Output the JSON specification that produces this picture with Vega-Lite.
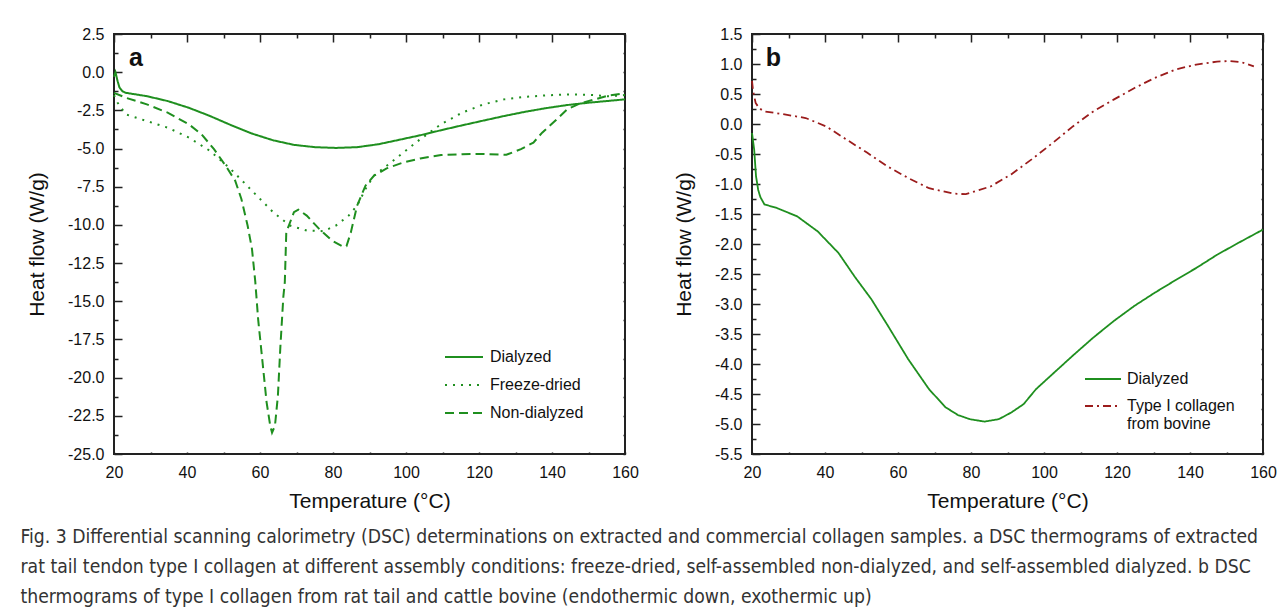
{
  "$schema": "https://vega.github.io/schema/vega-lite/v6.json",
  "background": "white",
  "padding": {"left": 20, "top": 25, "right": 5, "bottom": 5},
  "config": {
    "view": {"stroke": "#222", "strokeWidth": 2},
    "axis": {"labelFont": "Liberation Sans", "labelFontSize": 16, "labelColor": "#111", "titleFont": "Liberation Sans", "titleFontSize": 21, "titleFontWeight": "normal", "titleColor": "#111", "domain": false, "ticks": false, "grid": true, "gridColor": "#222222", "gridWidth": 1.5, "gridOpacity": 1, "labelFlush": false, "labelOverlap": false, "labelPadding": 10},
    "legend": {"labelFont": "Liberation Sans", "labelFontSize": 16, "labelColor": "#111"},
    "concat": {"spacing": 32}
  },
  "resolve": {"scale": {"color": "independent", "strokeDash": "independent"}, "legend": {"color": "independent", "strokeDash": "independent"}},
  "title": {
    "text": [
      "Fig. 3 Differential scanning calorimetry (DSC) determinations on extracted and commercial collagen samples. a DSC thermograms of extracted",
      "rat tail tendon type I collagen at different assembly conditions: freeze-dried, self-assembled non-dialyzed, and self-assembled dialyzed. b DSC",
      "thermograms of type I collagen from rat tail and cattle bovine (endothermic down, exothermic up)"
    ],
    "orient": "bottom", "anchor": "start", "frame": "bounds",
    "font": "DejaVu Sans Condensed, Liberation Sans", "fontSize": 19.2, "fontWeight": "normal", "color": "#333",
    "lineHeight": 30, "offset": 16, "dx": -5
  },
  "datasets": {
    "a": [
      {"s": "Dialyzed", "T": 20.0, "v": -0.3},
      {"s": "Dialyzed", "T": 20.4, "v": 0.0},
      {"s": "Dialyzed", "T": 21.0, "v": -0.6},
      {"s": "Dialyzed", "T": 21.5, "v": -1.0},
      {"s": "Dialyzed", "T": 22.3, "v": -1.25},
      {"s": "Dialyzed", "T": 23.2, "v": -1.35},
      {"s": "Dialyzed", "T": 29.0, "v": -1.57},
      {"s": "Dialyzed", "T": 34.7, "v": -1.89},
      {"s": "Dialyzed", "T": 40.5, "v": -2.33},
      {"s": "Dialyzed", "T": 46.3, "v": -2.87},
      {"s": "Dialyzed", "T": 52.0, "v": -3.46},
      {"s": "Dialyzed", "T": 57.8, "v": -4.02},
      {"s": "Dialyzed", "T": 63.6, "v": -4.46},
      {"s": "Dialyzed", "T": 69.3, "v": -4.76},
      {"s": "Dialyzed", "T": 75.1, "v": -4.91},
      {"s": "Dialyzed", "T": 80.8, "v": -4.96},
      {"s": "Dialyzed", "T": 86.6, "v": -4.91},
      {"s": "Dialyzed", "T": 92.4, "v": -4.72},
      {"s": "Dialyzed", "T": 98.1, "v": -4.43},
      {"s": "Dialyzed", "T": 103.9, "v": -4.13},
      {"s": "Dialyzed", "T": 109.6, "v": -3.8},
      {"s": "Dialyzed", "T": 115.4, "v": -3.48},
      {"s": "Dialyzed", "T": 121.2, "v": -3.17},
      {"s": "Dialyzed", "T": 126.9, "v": -2.87},
      {"s": "Dialyzed", "T": 132.7, "v": -2.59},
      {"s": "Dialyzed", "T": 138.5, "v": -2.35},
      {"s": "Dialyzed", "T": 144.2, "v": -2.15},
      {"s": "Dialyzed", "T": 150.0, "v": -2.0},
      {"s": "Dialyzed", "T": 160.0, "v": -1.78},
      {"s": "Freeze-dried", "T": 20.0, "v": -1.5},
      {"s": "Freeze-dried", "T": 21.0, "v": -2.0},
      {"s": "Freeze-dried", "T": 23.2, "v": -2.76},
      {"s": "Freeze-dried", "T": 29.0, "v": -3.2},
      {"s": "Freeze-dried", "T": 34.7, "v": -3.63},
      {"s": "Freeze-dried", "T": 40.5, "v": -4.28},
      {"s": "Freeze-dried", "T": 46.3, "v": -5.15},
      {"s": "Freeze-dried", "T": 52.0, "v": -6.35},
      {"s": "Freeze-dried", "T": 57.8, "v": -7.76},
      {"s": "Freeze-dried", "T": 63.6, "v": -9.17},
      {"s": "Freeze-dried", "T": 68.2, "v": -10.04},
      {"s": "Freeze-dried", "T": 72.8, "v": -10.37},
      {"s": "Freeze-dried", "T": 77.4, "v": -10.41},
      {"s": "Freeze-dried", "T": 80.8, "v": -10.04},
      {"s": "Freeze-dried", "T": 84.3, "v": -9.39},
      {"s": "Freeze-dried", "T": 86.6, "v": -8.74},
      {"s": "Freeze-dried", "T": 88.9, "v": -7.65},
      {"s": "Freeze-dried", "T": 91.2, "v": -6.78},
      {"s": "Freeze-dried", "T": 94.7, "v": -6.13},
      {"s": "Freeze-dried", "T": 99.3, "v": -5.26},
      {"s": "Freeze-dried", "T": 103.9, "v": -4.39},
      {"s": "Freeze-dried", "T": 109.6, "v": -3.41},
      {"s": "Freeze-dried", "T": 115.4, "v": -2.65},
      {"s": "Freeze-dried", "T": 121.2, "v": -2.11},
      {"s": "Freeze-dried", "T": 126.9, "v": -1.78},
      {"s": "Freeze-dried", "T": 132.7, "v": -1.61},
      {"s": "Freeze-dried", "T": 138.5, "v": -1.52},
      {"s": "Freeze-dried", "T": 144.2, "v": -1.46},
      {"s": "Freeze-dried", "T": 150.0, "v": -1.48},
      {"s": "Freeze-dried", "T": 155.7, "v": -1.58},
      {"s": "Freeze-dried", "T": 160.0, "v": -1.5},
      {"s": "Non-dialyzed", "T": 20.0, "v": -1.35},
      {"s": "Non-dialyzed", "T": 23.2, "v": -1.67},
      {"s": "Non-dialyzed", "T": 29.0, "v": -2.11},
      {"s": "Non-dialyzed", "T": 34.7, "v": -2.65},
      {"s": "Non-dialyzed", "T": 40.5, "v": -3.41},
      {"s": "Non-dialyzed", "T": 44.0, "v": -4.07},
      {"s": "Non-dialyzed", "T": 47.4, "v": -5.04},
      {"s": "Non-dialyzed", "T": 50.9, "v": -6.24},
      {"s": "Non-dialyzed", "T": 53.2, "v": -7.11},
      {"s": "Non-dialyzed", "T": 54.9, "v": -8.3},
      {"s": "Non-dialyzed", "T": 56.6, "v": -10.04},
      {"s": "Non-dialyzed", "T": 57.8, "v": -11.57},
      {"s": "Non-dialyzed", "T": 58.7, "v": -13.7},
      {"s": "Non-dialyzed", "T": 59.5, "v": -16.2},
      {"s": "Non-dialyzed", "T": 60.7, "v": -19.0},
      {"s": "Non-dialyzed", "T": 61.8, "v": -21.6},
      {"s": "Non-dialyzed", "T": 62.8, "v": -23.15},
      {"s": "Non-dialyzed", "T": 63.3, "v": -23.6},
      {"s": "Non-dialyzed", "T": 64.1, "v": -23.15},
      {"s": "Non-dialyzed", "T": 64.9, "v": -21.2},
      {"s": "Non-dialyzed", "T": 65.6, "v": -17.9},
      {"s": "Non-dialyzed", "T": 66.4, "v": -14.7},
      {"s": "Non-dialyzed", "T": 66.8, "v": -13.74},
      {"s": "Non-dialyzed", "T": 67.2, "v": -10.48},
      {"s": "Non-dialyzed", "T": 67.9, "v": -10.04},
      {"s": "Non-dialyzed", "T": 69.3, "v": -9.17},
      {"s": "Non-dialyzed", "T": 70.5, "v": -9.0},
      {"s": "Non-dialyzed", "T": 72.8, "v": -9.39},
      {"s": "Non-dialyzed", "T": 76.2, "v": -10.26},
      {"s": "Non-dialyzed", "T": 79.7, "v": -11.02},
      {"s": "Non-dialyzed", "T": 82.6, "v": -11.41},
      {"s": "Non-dialyzed", "T": 83.7, "v": -11.39},
      {"s": "Non-dialyzed", "T": 84.9, "v": -10.48},
      {"s": "Non-dialyzed", "T": 86.6, "v": -8.74},
      {"s": "Non-dialyzed", "T": 88.9, "v": -7.43},
      {"s": "Non-dialyzed", "T": 91.2, "v": -6.78},
      {"s": "Non-dialyzed", "T": 94.7, "v": -6.3},
      {"s": "Non-dialyzed", "T": 99.3, "v": -5.91},
      {"s": "Non-dialyzed", "T": 103.9, "v": -5.65},
      {"s": "Non-dialyzed", "T": 109.6, "v": -5.43},
      {"s": "Non-dialyzed", "T": 115.4, "v": -5.37},
      {"s": "Non-dialyzed", "T": 121.2, "v": -5.35},
      {"s": "Non-dialyzed", "T": 127.5, "v": -5.41},
      {"s": "Non-dialyzed", "T": 131.5, "v": -5.04},
      {"s": "Non-dialyzed", "T": 134.9, "v": -4.61},
      {"s": "Non-dialyzed", "T": 137.3, "v": -3.96},
      {"s": "Non-dialyzed", "T": 140.8, "v": -3.2},
      {"s": "Non-dialyzed", "T": 144.2, "v": -2.43},
      {"s": "Non-dialyzed", "T": 147.7, "v": -2.04},
      {"s": "Non-dialyzed", "T": 152.3, "v": -1.74},
      {"s": "Non-dialyzed", "T": 155.7, "v": -1.52},
      {"s": "Non-dialyzed", "T": 159.8, "v": -1.39}
    ],
    "b": [
      {"s": "Dialyzed", "T": 20.0, "v": -0.15},
      {"s": "Dialyzed", "T": 20.6, "v": -0.43},
      {"s": "Dialyzed", "T": 21.1, "v": -0.87},
      {"s": "Dialyzed", "T": 21.7, "v": -1.1},
      {"s": "Dialyzed", "T": 22.3, "v": -1.22},
      {"s": "Dialyzed", "T": 23.4, "v": -1.34},
      {"s": "Dialyzed", "T": 26.8, "v": -1.4},
      {"s": "Dialyzed", "T": 32.4, "v": -1.54},
      {"s": "Dialyzed", "T": 38.0, "v": -1.79},
      {"s": "Dialyzed", "T": 43.7, "v": -2.15},
      {"s": "Dialyzed", "T": 48.2, "v": -2.55},
      {"s": "Dialyzed", "T": 52.7, "v": -2.92},
      {"s": "Dialyzed", "T": 57.2, "v": -3.36},
      {"s": "Dialyzed", "T": 62.8, "v": -3.92},
      {"s": "Dialyzed", "T": 68.5, "v": -4.42},
      {"s": "Dialyzed", "T": 73.0, "v": -4.72},
      {"s": "Dialyzed", "T": 76.4, "v": -4.85},
      {"s": "Dialyzed", "T": 79.7, "v": -4.92},
      {"s": "Dialyzed", "T": 83.7, "v": -4.96},
      {"s": "Dialyzed", "T": 87.6, "v": -4.92},
      {"s": "Dialyzed", "T": 91.0, "v": -4.81},
      {"s": "Dialyzed", "T": 94.4, "v": -4.67},
      {"s": "Dialyzed", "T": 97.8, "v": -4.42},
      {"s": "Dialyzed", "T": 102.3, "v": -4.17},
      {"s": "Dialyzed", "T": 107.9, "v": -3.86},
      {"s": "Dialyzed", "T": 113.5, "v": -3.56},
      {"s": "Dialyzed", "T": 119.2, "v": -3.28},
      {"s": "Dialyzed", "T": 124.8, "v": -3.03},
      {"s": "Dialyzed", "T": 130.4, "v": -2.81},
      {"s": "Dialyzed", "T": 136.1, "v": -2.6},
      {"s": "Dialyzed", "T": 141.7, "v": -2.4},
      {"s": "Dialyzed", "T": 147.4, "v": -2.18},
      {"s": "Dialyzed", "T": 153.0, "v": -1.99},
      {"s": "Dialyzed", "T": 160.0, "v": -1.76},
      {"s": "Type I collagen from bovine", "T": 20.0, "v": 0.72},
      {"s": "Type I collagen from bovine", "T": 20.3, "v": 0.55},
      {"s": "Type I collagen from bovine", "T": 21.0, "v": 0.35},
      {"s": "Type I collagen from bovine", "T": 22.0, "v": 0.26},
      {"s": "Type I collagen from bovine", "T": 23.4, "v": 0.21},
      {"s": "Type I collagen from bovine", "T": 27.9, "v": 0.17},
      {"s": "Type I collagen from bovine", "T": 34.7, "v": 0.1},
      {"s": "Type I collagen from bovine", "T": 40.3, "v": -0.04},
      {"s": "Type I collagen from bovine", "T": 45.9, "v": -0.26},
      {"s": "Type I collagen from bovine", "T": 51.6, "v": -0.48},
      {"s": "Type I collagen from bovine", "T": 57.2, "v": -0.71},
      {"s": "Type I collagen from bovine", "T": 62.8, "v": -0.9},
      {"s": "Type I collagen from bovine", "T": 68.5, "v": -1.07},
      {"s": "Type I collagen from bovine", "T": 75.2, "v": -1.16},
      {"s": "Type I collagen from bovine", "T": 78.6, "v": -1.17},
      {"s": "Type I collagen from bovine", "T": 85.4, "v": -1.04},
      {"s": "Type I collagen from bovine", "T": 91.0, "v": -0.84},
      {"s": "Type I collagen from bovine", "T": 96.6, "v": -0.59},
      {"s": "Type I collagen from bovine", "T": 102.3, "v": -0.32},
      {"s": "Type I collagen from bovine", "T": 107.9, "v": -0.04},
      {"s": "Type I collagen from bovine", "T": 113.5, "v": 0.21},
      {"s": "Type I collagen from bovine", "T": 119.2, "v": 0.41},
      {"s": "Type I collagen from bovine", "T": 124.8, "v": 0.6},
      {"s": "Type I collagen from bovine", "T": 130.4, "v": 0.77},
      {"s": "Type I collagen from bovine", "T": 136.1, "v": 0.91},
      {"s": "Type I collagen from bovine", "T": 141.7, "v": 0.99},
      {"s": "Type I collagen from bovine", "T": 147.4, "v": 1.04},
      {"s": "Type I collagen from bovine", "T": 150.7, "v": 1.05},
      {"s": "Type I collagen from bovine", "T": 154.1, "v": 1.03},
      {"s": "Type I collagen from bovine", "T": 157.5, "v": 0.96}
    ]
  },
  "hconcat": [
    {
      "width": 511, "height": 420,
      "encoding": {
        "x": {"field": "T", "type": "quantitative", "title": "Temperature (°C)",
          "scale": {"domain": [20, 160], "nice": false, "zero": false},
          "axis": {"values": [20,30,40,50,60,70,80,90,100,110,120,130,140,150,160],
            "labelExpr": "datum.value % 20 == 0 ? datum.label : ''",
            "gridDash": {"condition": {"test": "datum.value % 20 == 0", "value": [8, 410]}, "value": [4, 414]},
            "titlePadding": 10}},
        "y": {"field": "v", "type": "quantitative", "title": "Heat flow  (W/g)",
          "scale": {"domain": [-25, 2.5], "nice": false, "zero": false},
          "axis": {"values": [-25,-23.75,-22.5,-21.25,-20,-18.75,-17.5,-16.25,-15,-13.75,-12.5,-11.25,-10,-8.75,-7.5,-6.25,-5,-3.75,-2.5,-1.25,0,1.25,2.5],
            "labelExpr": "abs(datum.value/2.5 - round(datum.value/2.5)) < 0.001 ? replace(format(datum.value, '.1f'), '\u2212', '-') : ''",
            "gridDash": {"condition": {"test": "abs(datum.value/2.5 - round(datum.value/2.5)) < 0.001", "value": [8, 501]}, "value": [4, 505]},
            "titlePadding": 20}}
      },
      "layer": [
        {
          "data": {"name": "a"},
          "mark": {"type": "line", "strokeWidth": 2, "color": "#1f8f1f", "strokeCap": "butt"},
          "encoding": {
            "strokeDash": {"field": "s", "type": "nominal",
              "scale": {"domain": ["Dialyzed", "Freeze-dried", "Non-dialyzed"], "range": [[1, 0], [2, 6], [9, 5]]},
              "legend": {"title": null, "orient": "none", "legendX": 330, "legendY": 303, "symbolType": "stroke", "symbolSize": 1444, "symbolStrokeWidth": 2, "symbolStrokeColor": "#1f8f1f", "labelOffset": 6, "rowPadding": -23.5}}
          }
        },
        {
          "data": {"values": [{"label": "a", "T": 24.1, "v": 0.95}]},
          "mark": {"type": "text", "font": "Liberation Sans", "fontSize": 25, "fontWeight": "bold", "align": "left", "baseline": "middle", "color": "#111"},
          "encoding": {"text": {"field": "label"}}
        }
      ]
    },
    {
      "width": 511, "height": 420,
      "encoding": {
        "x": {"field": "T", "type": "quantitative", "title": "Temperature (°C)",
          "scale": {"domain": [20, 160], "nice": false, "zero": false},
          "axis": {"values": [20,30,40,50,60,70,80,90,100,110,120,130,140,150,160],
            "labelExpr": "datum.value % 20 == 0 ? datum.label : ''",
            "gridDash": {"condition": {"test": "datum.value % 20 == 0", "value": [8, 410]}, "value": [4, 414]},
            "titlePadding": 10}},
        "y": {"field": "v", "type": "quantitative", "title": "Heat flow  (W/g)",
          "scale": {"domain": [-5.5, 1.5], "nice": false, "zero": false},
          "axis": {"values": [-5.5,-5.25,-5,-4.75,-4.5,-4.25,-4,-3.75,-3.5,-3.25,-3,-2.75,-2.5,-2.25,-2,-1.75,-1.5,-1.25,-1,-0.75,-0.5,-0.25,0,0.25,0.5,0.75,1,1.25,1.5],
            "labelExpr": "abs(datum.value/0.5 - round(datum.value/0.5)) < 0.001 ? replace(format(datum.value, '.1f'), '\u2212', '-') : ''",
            "gridDash": {"condition": {"test": "abs(datum.value/0.5 - round(datum.value/0.5)) < 0.001", "value": [8, 501]}, "value": [4, 505]},
            "titlePadding": 20}}
      },
      "layer": [
        {
          "data": {"name": "b"},
          "mark": {"type": "line", "strokeWidth": 1.8, "strokeCap": "butt"},
          "encoding": {
            "color": {"field": "s", "type": "nominal",
              "scale": {"domain": ["Dialyzed", "Type I collagen from bovine"], "range": ["#1f8f1f", "#9b1c1c"]},
              "legend": {"title": null, "orient": "none", "legendX": 332, "legendY": 326, "symbolType": "stroke", "symbolSize": 1296, "symbolStrokeWidth": 2, "labelOffset": 5, "rowPadding": -20,
                "labelExpr": "datum.label == 'Type I collagen from bovine' ? ['Type I collagen', ' from bovine'] : datum.label"}},
            "strokeDash": {"field": "s", "type": "nominal",
              "scale": {"domain": ["Dialyzed", "Type I collagen from bovine"], "range": [[1, 0], [8, 4, 2, 4]]},
              "legend": {"title": null, "orient": "none", "legendX": 332, "legendY": 326, "symbolType": "stroke", "symbolSize": 1296, "symbolStrokeWidth": 2, "labelOffset": 5, "rowPadding": -20,
                "labelExpr": "datum.label == 'Type I collagen from bovine' ? ['Type I collagen', ' from bovine'] : datum.label"}}
          }
        },
        {
          "data": {"values": [{"label": "b", "T": 23.8, "v": 1.1}]},
          "mark": {"type": "text", "font": "Liberation Sans", "fontSize": 25, "fontWeight": "bold", "align": "left", "baseline": "middle", "color": "#111"},
          "encoding": {"text": {"field": "label"}}
        }
      ]
    }
  ]
}
